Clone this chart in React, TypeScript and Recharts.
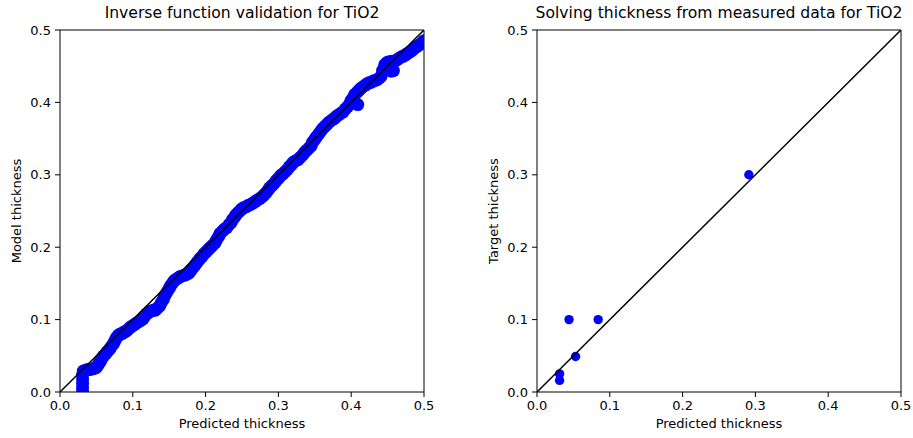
import React from 'react'
import { ScatterChart, Scatter, XAxis, YAxis, ReferenceArea } from 'recharts'

// left panel: predicted thickness vs model thickness
const validX = [
  0.031, 0.031, 0.031, 0.031, 0.031, 0.032, 0.035, 0.038, 0.041, 0.045, 0.048, 0.05, 0.052, 0.054,
  0.056, 0.058, 0.06, 0.063, 0.065, 0.068, 0.07, 0.073, 0.075, 0.077, 0.079, 0.081, 0.083, 0.086,
  0.088, 0.091, 0.093, 0.096, 0.099, 0.102, 0.105, 0.108, 0.111, 0.114, 0.116, 0.119, 0.122, 0.125,
  0.128, 0.131, 0.134, 0.137, 0.139, 0.142, 0.144, 0.147, 0.15, 0.152, 0.155, 0.157, 0.16, 0.163,
  0.166, 0.17, 0.173, 0.177, 0.18, 0.183, 0.186, 0.189, 0.192, 0.195, 0.198, 0.201, 0.204, 0.207,
  0.21, 0.213, 0.215, 0.218, 0.22, 0.223, 0.226, 0.229, 0.232, 0.235, 0.237, 0.24, 0.242, 0.245,
  0.248, 0.25, 0.253, 0.256, 0.259, 0.262, 0.265, 0.268, 0.271, 0.274, 0.277, 0.28, 0.283, 0.286,
  0.288, 0.291, 0.294, 0.297, 0.3, 0.303, 0.306, 0.309, 0.312, 0.315, 0.318, 0.32, 0.323, 0.327,
  0.33, 0.333, 0.336, 0.339, 0.342, 0.345, 0.347, 0.35, 0.352, 0.355, 0.358, 0.361, 0.364, 0.367,
  0.37, 0.374, 0.377, 0.38, 0.383, 0.386, 0.389, 0.392, 0.395, 0.398, 0.4, 0.403, 0.405, 0.408,
  0.409, 0.411, 0.414, 0.418, 0.421, 0.424, 0.428, 0.431, 0.435, 0.438, 0.441, 0.443, 0.446, 0.449,
  0.452, 0.455, 0.458, 0.456, 0.46, 0.463, 0.466, 0.469, 0.472, 0.475, 0.478, 0.481, 0.484, 0.487,
  0.49, 0.493, 0.496, 0.498, 0.5,
]
const validY = [
  0.0, 0.006, 0.012, 0.018, 0.024, 0.029, 0.03, 0.031, 0.031, 0.032, 0.033, 0.034, 0.037, 0.04,
  0.043, 0.047, 0.05, 0.053, 0.056, 0.059, 0.062, 0.066, 0.07, 0.074, 0.077, 0.079, 0.08, 0.081,
  0.083, 0.084, 0.086, 0.089, 0.091, 0.093, 0.095, 0.097, 0.099, 0.101, 0.104, 0.108, 0.11, 0.112,
  0.113, 0.113, 0.116, 0.119, 0.123, 0.128, 0.133, 0.138, 0.143, 0.147, 0.151, 0.154, 0.156, 0.158,
  0.16, 0.161, 0.162, 0.164, 0.168, 0.172, 0.176, 0.18, 0.184, 0.187, 0.191, 0.194, 0.197, 0.2,
  0.203, 0.206, 0.21, 0.215, 0.219, 0.222, 0.225, 0.227, 0.231, 0.234, 0.238, 0.242, 0.245, 0.248,
  0.251, 0.253, 0.255, 0.256, 0.258, 0.259, 0.261, 0.263, 0.265, 0.267, 0.269, 0.272, 0.275, 0.279,
  0.282, 0.285, 0.288, 0.292, 0.295, 0.299, 0.301, 0.304, 0.307, 0.311, 0.314, 0.317, 0.319, 0.321,
  0.324, 0.327, 0.331, 0.334, 0.337, 0.34, 0.345, 0.349, 0.352, 0.356, 0.36, 0.364, 0.367, 0.37,
  0.373, 0.376, 0.378, 0.381, 0.383, 0.385, 0.387, 0.391, 0.394, 0.398, 0.403, 0.407, 0.411, 0.414,
  0.397, 0.417, 0.42, 0.423, 0.425, 0.427, 0.428, 0.43, 0.431, 0.433, 0.436, 0.444, 0.452, 0.455,
  0.456, 0.443, 0.444, 0.457, 0.457, 0.459, 0.461, 0.463, 0.464, 0.466, 0.468, 0.47, 0.472, 0.475,
  0.477, 0.479, 0.481, 0.483, 0.485,
]

// right panel: measured samples
const measuredX = [0.031, 0.031, 0.044, 0.084, 0.053, 0.291]
const measuredY = [0.025, 0.016, 0.1, 0.1, 0.049, 0.3]

const ticks = [0, 0.1, 0.2, 0.3, 0.4, 0.5]
const diag = [0, 0.5]

const validData = validX.map((x, i) => ({ x, y: validY[i] }))
const measuredData = measuredX.map((x, i) => ({ x, y: measuredY[i] }))
const diagData = diag.map((v) => ({ x: v, y: v }))

const font = 'DejaVu Sans, sans-serif'
const tickStyle = { fontSize: 13, fill: '#000', fontFamily: font }

function Panel({ data, radius, width, yAxisWidth, right, title, ylabel, left, ylabelX }: {
  data: { x: number; y: number }[]
  radius: number
  width: number
  yAxisWidth: number
  right: number
  title: string
  ylabel: string
  left: number
  ylabelX: number
}) {
  const plotLeft = left + yAxisWidth
  const plotRight = left + width - right
  const mid = (plotLeft + plotRight) / 2
  const dot = (p: any) => <circle cx={p.cx} cy={p.cy} r={radius} fill="#0000ff" />
  return (
    <>
      <div style={{ position: 'absolute', left, top: 0 }}>
        <ScatterChart width={width} height={438} margin={{ top: 30, right, bottom: 0, left: 0 }}>
          <XAxis
            type="number"
            dataKey="x"
            domain={[0, 0.5]}
            ticks={ticks}
            allowDataOverflow
            tickFormatter={(v) => Number(v).toFixed(1)}
            tick={tickStyle}
            tickSize={5}
            tickMargin={4}
            axisLine={false}
            tickLine={{ stroke: '#000' }}
            height={46}
          />
          <YAxis
            type="number"
            dataKey="y"
            domain={[0, 0.5]}
            ticks={ticks}
            allowDataOverflow
            tickFormatter={(v) => Number(v).toFixed(1)}
            tick={tickStyle}
            tickSize={5}
            tickMargin={4}
            axisLine={false}
            tickLine={{ stroke: '#000' }}
            width={yAxisWidth}
          />
          <ReferenceArea x1={0} x2={0.5} y1={0} y2={0.5} fill="none" stroke="#000" strokeWidth={1} fillOpacity={0} />
          <Scatter data={data} fill="#0000ff" shape={dot} isAnimationActive={false} />
          {/* y = x reference, drawn after the points so it sits on top */}
          <Scatter
            data={diagData}
            line={{ stroke: '#000', strokeWidth: 1.5 }}
            shape={() => <g />}
            isAnimationActive={false}
          />
        </ScatterChart>
      </div>
      <div style={{ position: 'absolute', left: mid - 200, top: 4, width: 400, textAlign: 'center', fontFamily: font, fontSize: 15.6, whiteSpace: 'nowrap' }}>
        {title}
      </div>
      <div style={{ position: 'absolute', left: mid - 100, top: 416, width: 200, textAlign: 'center', fontFamily: font, fontSize: 13 }}>
        Predicted thickness
      </div>
      <div style={{ position: 'absolute', left: ylabelX - 100, top: 211 - 8, width: 200, textAlign: 'center', fontFamily: font, fontSize: 13, transform: 'rotate(-90deg)', lineHeight: '16px' }}>
        {ylabel}
      </div>
    </>
  )
}

export default function App() {
  return (
    <div style={{ position: 'absolute', left: 0, top: 0, width: 913, height: 438, background: '#fff' }}>
      <Panel data={validData} radius={6.5} width={440} yAxisWidth={60} right={16} left={0} ylabelX={17}
        title="Inverse function validation for TiO2" ylabel="Model thickness" />
      <Panel data={measuredData} radius={4.7} width={443} yAxisWidth={67} right={12} left={470} ylabelX={494}
        title="Solving thickness from measured data for TiO2" ylabel="Target thickness" />
    </div>
  )
}
